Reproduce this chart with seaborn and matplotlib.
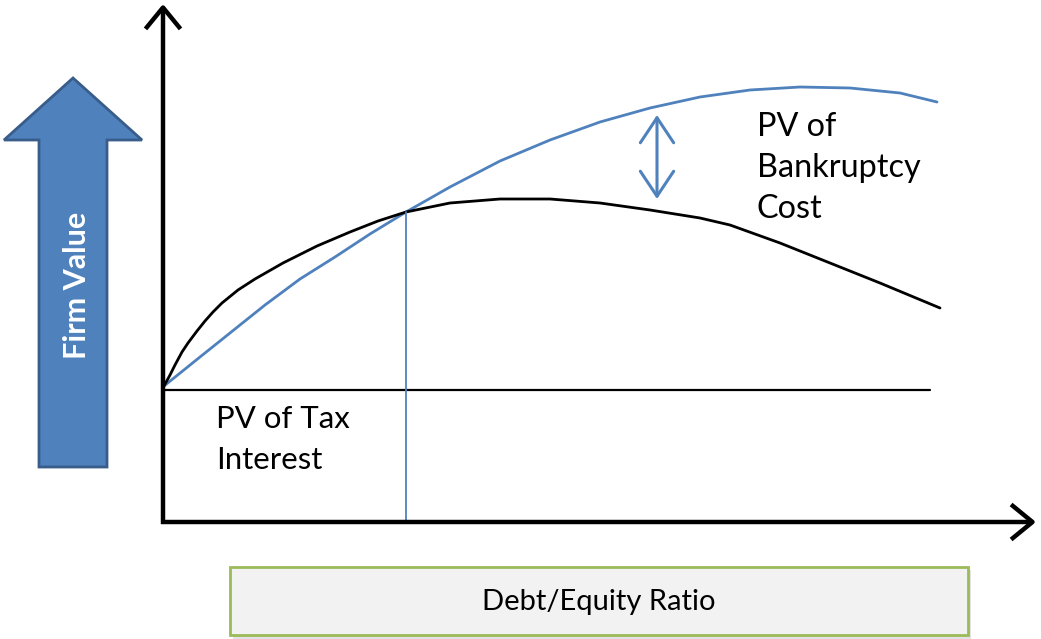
import numpy as np
import pandas as pd
import matplotlib.pyplot as plt
import matplotlib.patches as mpatches
import seaborn as sns

# ── Data (pixel-space reading of the diagram) ────────────────
blue_x = [164, 200, 235, 265, 300, 335, 370, 406, 450, 500, 550, 600, 650,
          700, 750, 800, 850, 900, 937]
blue_y = [386, 357, 329, 305, 279, 257, 234, 212, 187, 161, 140, 122, 108,
          97, 90, 87, 88, 93, 102]

black_x = [164, 170, 175, 182, 188, 197, 205, 213, 222, 238, 255, 283, 317,
           350, 378, 406, 450, 500, 550, 600, 650, 700, 730, 780, 830, 880, 940]
black_y = [386, 375, 365, 352, 343, 331, 321, 312, 303, 290, 279, 263, 246,
           232, 221, 212, 203, 199, 199, 203, 210, 218, 225, 243, 263, 283, 308]

base_x = [163, 930]
base_y = [390, 390]

opt_x = [406, 406]
opt_y = [212, 522]

BLUE = "#4F81BD"
BLUE_EDGE = "#385D8A"
FONT = ["Lato", "DejaVu Sans"]

sns.set_theme(style="white")
plt.rcParams["font.family"] = FONT

fig = plt.figure(figsize=(10.41, 6.39), dpi=100)
ax = fig.add_axes([0, 0, 1, 1])
ax.set_xlim(0, 1041)
ax.set_ylim(639, 0)
ax.axis("off")

# curves
sns.lineplot(x=blue_x, y=blue_y, ax=ax, color=BLUE, lw=2.0, sort=False, estimator=None)
sns.lineplot(x=black_x, y=black_y, ax=ax, color="black", lw=2.0, sort=False, estimator=None)
sns.lineplot(x=base_x, y=base_y, ax=ax, color="black", lw=1.6, sort=False, estimator=None)
sns.lineplot(x=opt_x, y=opt_y, ax=ax, color=BLUE, lw=1.3, sort=False, estimator=None)

# axes arrows
axis_style = dict(arrowstyle="->,head_length=0.55,head_width=0.45",
                  color="black", lw=3.2, mutation_scale=28,
                  shrinkA=0, shrinkB=0, capstyle="butt")
ax.annotate("", xy=(163, 4), xytext=(163, 524), arrowprops=axis_style)
ax.annotate("", xy=(1036, 522), xytext=(161, 522), arrowprops=axis_style)

# double arrow (bankruptcy cost gap)
ax.annotate("", xy=(657, 115), xytext=(657, 199),
            arrowprops=dict(arrowstyle="<->,head_length=0.75,head_width=0.5",
                            color=BLUE, lw=2.2, mutation_scale=24,
                            shrinkA=0, shrinkB=0))

# big "Firm Value" arrow
arrow_pts = [(39, 467), (107, 467), (107, 140), (142, 140), (73, 78),
             (4, 140), (39, 140)]
ax.add_patch(mpatches.Polygon(arrow_pts, closed=True, facecolor=BLUE,
                              edgecolor=BLUE_EDGE, lw=2.0, zorder=3))
ax.text(77, 285, "Firm Value", rotation=90, ha="center", va="center",
        color="white", fontsize=22, fontweight="bold", zorder=4)

# labels
ax.text(757, 112, "PV of\nBankruptcy\nCost", ha="left", va="top",
        fontsize=23.3, color="black", linespacing=1.45)
ax.text(216, 405, "PV of Tax\nInterest", ha="left", va="top",
        fontsize=22.4, color="black", linespacing=1.55)

# x-axis caption box
ax.add_patch(mpatches.Rectangle((233, 570), 738, 69, facecolor="#D0D0D0",
                                edgecolor="none", zorder=1, alpha=0.6))
ax.add_patch(mpatches.Rectangle((230, 567), 738, 68, facecolor="#F2F2F2",
                                edgecolor="#9BBB59", lw=2.0, zorder=2))
ax.text(599, 602, "Debt/Equity Ratio", ha="center", va="center",
        fontsize=21, color="black", zorder=3)

fig.savefig("out.png", dpi=100, facecolor="white")
plt.close(fig)
